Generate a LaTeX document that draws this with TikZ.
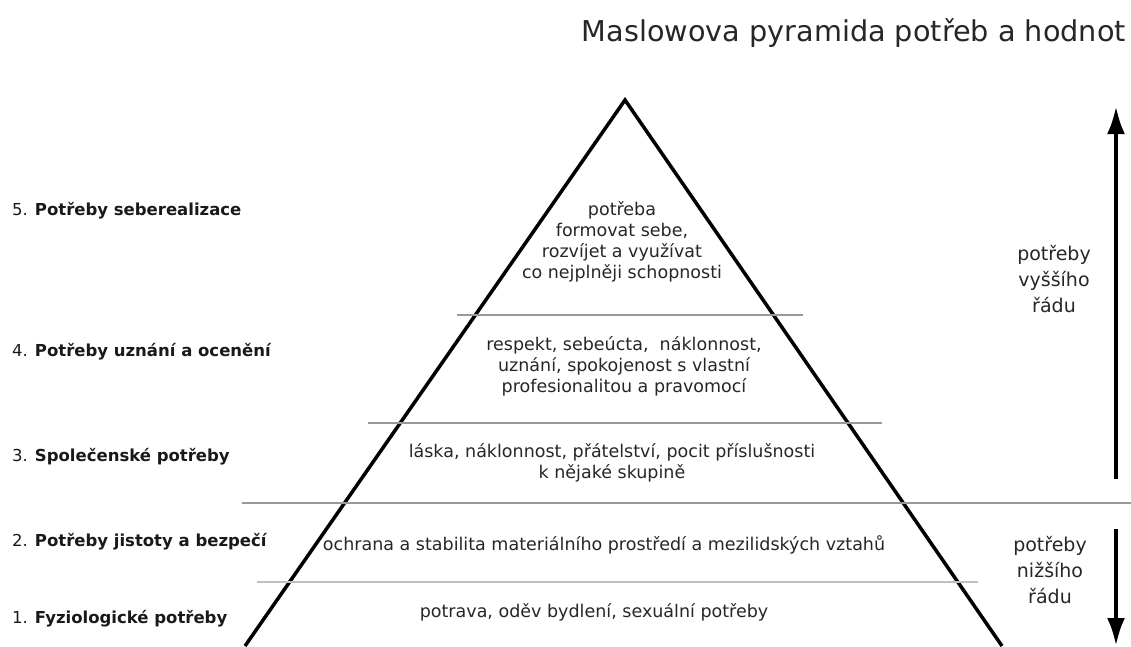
\documentclass[tikz,border=0pt]{standalone}
\usepackage{fontspec}
\setmainfont{DejaVu Sans}
\usetikzlibrary{arrows.meta}
\tikzset{>={Latex[length=28pt,width=18pt]}}
\tikzset{
  levtext/.style={font=\fontsize{17.5}{21}\selectfont, align=center, text=black!85, inner sep=0pt},
  needlabel/.style={font=\fontsize{16.5}{20}\selectfont, anchor=west, inner sep=0pt, text=black!90},
  ordertext/.style={font=\fontsize{19}{26}\selectfont, align=center, text=black!85, inner sep=0pt},
  divider/.style={line width=1.5pt, gray!80},
}

\begin{document}
\begin{tikzpicture}[x=1pt,y=-1pt]
    \useasboundingbox (0,0) rectangle (1131,646);

    % title
    \node[anchor=base east, inner sep=0pt, text=black!85, font=\fontsize{28.7}{34}\selectfont] (title) at (1126,41) {Maslowova pyramida potřeb a hodnot};

    % pyramid
    \draw[line width=3.5pt, line join=miter] (245,646) -- (625,100) -- (1002,646);

    % level borders
    \foreach \y/\a/\b in {315/457/803, 423/368/882, 503/242/1131}
    {
        \draw[divider] (\a,\y) -- (\b,\y);
    }
    \draw[divider, gray!50] (257,582) -- (978,582);

    % levels, left side
    \foreach \n/\y/\t in {5/211/Potřeby seberealizace, 4/352/Potřeby uznání a ocenění, 3/457/Společenské potřeby, 2/542/Potřeby jistoty a bezpečí, 1/619/Fyziologické potřeby}
    {
        \node[needlabel] (need\n) at (12,\y) {\n. \textbf{\t}};
    }

    % contents of the levels
    \node[levtext] (lev5) at (622,242) {potřeba\\formovat sebe,\\rozvíjet a využívat\\co nejplněji schopnosti};
    \node[levtext] (lev4) at (624,366) {respekt, sebeúcta,\ \ náklonnost,\\uznání, spokojenost s vlastní\\profesionalitou a pravomocí};
    \node[levtext] (lev3) at (612,463) {láska, náklonnost, přátelství, pocit příslušnosti\\k nějaké skupině};
    \node[levtext] (lev2) at (604,545) {ochrana a stabilita materiálního prostředí a mezilidských vztahů};
    \node[levtext] (lev1) at (594,612) {potrava, oděv bydlení, sexuální potřeby};

    % higher / lower order
    \coordinate (hiend) at (1116,479);
    \coordinate (hitop) at (1116,106);
    \coordinate (lotop) at (1116,529);
    \coordinate (loend) at (1116,646);
    \draw[->, line width=4.3pt] (hiend) -- (hitop);
    \draw[->, line width=4.3pt] (lotop) -- (loend);
    \node[ordertext] (higher) at (1054,279) {potřeby\\vyššího\\řádu};
    \node[ordertext] (lower) at (1050,570) {potřeby\\nižšího\\řádu};

\end{tikzpicture}
\end{document}
